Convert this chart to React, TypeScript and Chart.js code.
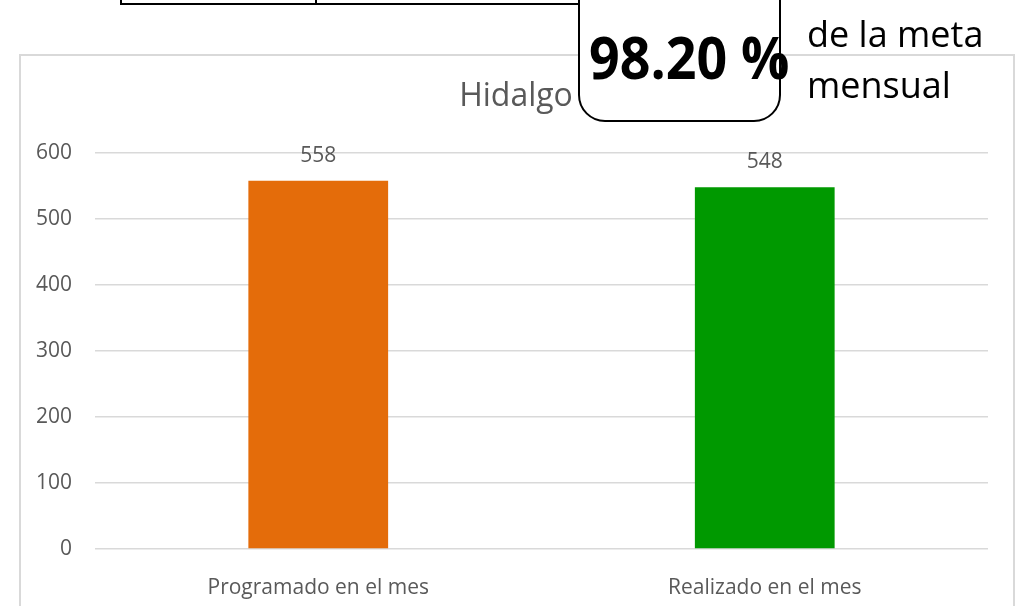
import React, { useEffect, useRef } from "react";
import { Chart, registerables } from "chart.js";

Chart.register(...registerables);

const categories = ["Programado en el mes", "Realizado en el mes"];
const values = [558, 548];
const barColors = ["#E46C0A", "#009900"];
const yMin = 0;
const yMax = 600;
const yStep = 100;
const chartTitle = "Hidalgo";
const percentText = "98.20 %";
const noteLines = ["de la meta", "mensual"];

const TEXT = "#595959";
const GRID = "#d9d9d9";
const FONT = '"Open Sans", "Noto Sans", sans-serif';

const valueLabels = {
  id: "valueLabels",
  afterDatasetsDraw(chart: any) {
    const ctx = chart.ctx;
    const meta = chart.getDatasetMeta(0);
    ctx.save();
    ctx.font = `21px ${FONT}`;
    ctx.fillStyle = TEXT;
    ctx.textAlign = "center";
    ctx.textBaseline = "middle";
    meta.data.forEach((bar: any, i: number) => {
      ctx.fillText(String(values[i]), bar.x, bar.y - 25);
    });
    ctx.restore();
  },
};

export default function App() {
  const ref = useRef<HTMLCanvasElement | null>(null);

  useEffect(() => {
    if (!ref.current) return;
    Chart.defaults.font.family = FONT;
    const chart = new Chart(ref.current, {
      type: "bar",
      data: {
        labels: categories,
        datasets: [
          {
            data: values,
            backgroundColor: barColors,
            borderWidth: 0,
            barPercentage: 0.313,
            categoryPercentage: 1,
          },
        ],
      },
      options: {
        animation: false,
        responsive: false,
        maintainAspectRatio: false,
        layout: { padding: { left: 20, right: 17, top: 55, bottom: 0 } },
        plugins: {
          legend: { display: false },
          tooltip: { enabled: false },
          title: {
            display: true,
            text: chartTitle,
            color: TEXT,
            font: { size: 32, weight: "normal" as any, family: FONT },
            padding: { top: 22.8, bottom: 36.8 },
          },
        },
        scales: {
          x: {
            grid: { display: false },
            border: { display: false },
            ticks: { color: TEXT, font: { size: 21 }, padding: 18 },
            afterFit: (s: any) => {
              s.height = 57;
            },
          },
          y: {
            min: yMin,
            max: yMax,
            ticks: { stepSize: yStep, color: TEXT, font: { size: 21 }, padding: 23 },
            grid: { color: GRID, lineWidth: 1.5, drawTicks: false },
            border: { display: false },
            afterFit: (s: any) => {
              s.width = 75;
            },
          },
          y2: {
            position: "right",
            min: yMin,
            max: yMax,
            grid: { display: false },
            ticks: { display: false },
            border: { display: false },
            afterFit: (s: any) => {
              s.width = 24;
            },
          },
        },
      },
      plugins: [valueLabels],
    });
    return () => chart.destroy();
  }, []);

  return (
    <div
      style={{
        position: "absolute",
        left: 0,
        top: 0,
        width: 1029,
        height: 606,
        overflow: "hidden",
        background: "#fff",
        fontFamily: FONT,
      }}
    >
      <div
        style={{
          position: "absolute",
          left: 19,
          top: 54,
          width: 996,
          height: 600,
          border: `2px solid ${GRID}`,
          boxSizing: "border-box",
        }}
      />
      <canvas
        ref={ref}
        width={1029}
        height={606}
        style={{ position: "absolute", left: 0, top: 0, width: 1029, height: 606 }}
      />
      <div
        style={{
          position: "absolute",
          left: 120,
          top: -20,
          width: 657,
          height: 25,
          border: "2px solid #000",
          boxSizing: "border-box",
        }}
      />
      <div style={{ position: "absolute", left: 315, top: 0, width: 2, height: 5, background: "#000" }} />
      <div
        style={{
          position: "absolute",
          left: 578,
          top: -40,
          width: 203,
          height: 162,
          border: "2px solid #000",
          borderRadius: 27,
          boxSizing: "border-box",
          background: "#fff",
        }}
      />
      <div
        style={{
          position: "absolute",
          left: 589,
          top: 27,
          fontSize: 59,
          lineHeight: "59px",
          fontWeight: 700,
          color: "#000",
          whiteSpace: "nowrap",
          transform: "scaleX(0.91)",
          transformOrigin: "left top",
        }}
      >
        {percentText}
      </div>
      <div
        style={{
          position: "absolute",
          left: 807,
          top: 8,
          fontSize: 36,
          lineHeight: "51px",
          color: "#000",
          whiteSpace: "nowrap",
        }}
      >
        {noteLines.map((t) => (
          <div key={t}>{t}</div>
        ))}
      </div>
    </div>
  );
}
